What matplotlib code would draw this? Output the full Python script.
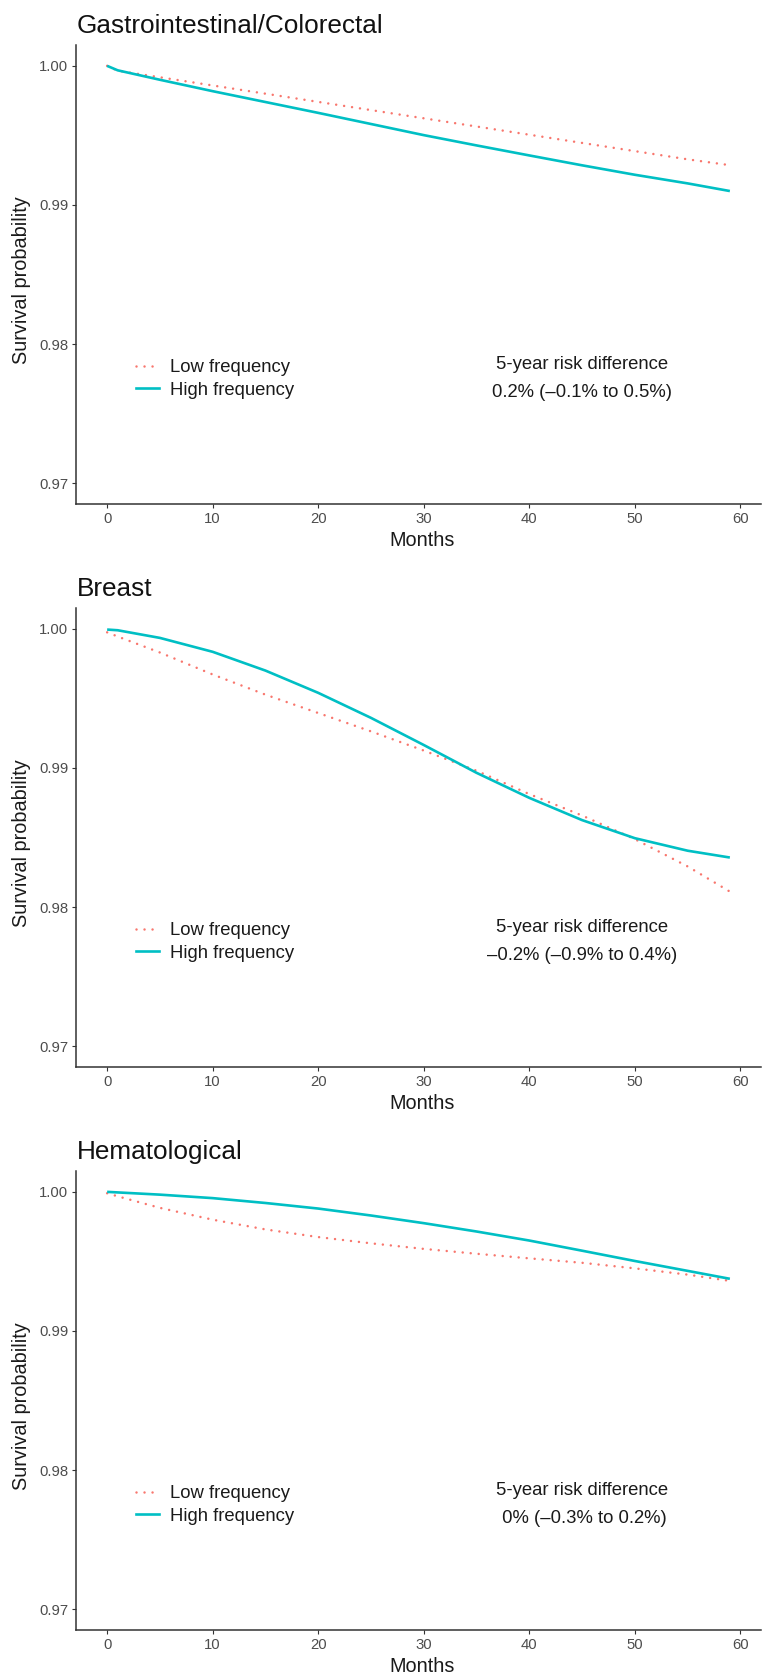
import matplotlib
matplotlib.use("Agg")
import matplotlib.pyplot as plt
from matplotlib.lines import Line2D

plt.rcParams['font.family'] = ['Liberation Sans', 'DejaVu Sans']

# ---- data ----
titles = ["Gastrointestinal/Colorectal", "Breast", "Hematological"]
months = [0, 1, 5, 10, 15, 20, 25, 30, 35, 40, 45, 50, 55, 59]

low_gi = [1.0, 0.99965, 0.99918, 0.99859, 0.99800, 0.99741, 0.99682, 0.99623,
          0.99564, 0.99505, 0.99446, 0.99387, 0.99328, 0.99286]
high_gi = [1.0, 0.99968, 0.99900, 0.99818, 0.99740, 0.99662, 0.99582, 0.99502,
           0.99428, 0.99356, 0.99285, 0.99217, 0.99155, 0.99100]

low_breast = [0.99975, 0.99945, 0.99830, 0.99672, 0.99527, 0.99395, 0.99263, 0.99125,
              0.98980, 0.98812, 0.98658, 0.98488, 0.98292, 0.98111]
high_breast = [0.99995, 0.99990, 0.99935, 0.99835, 0.99700, 0.99540, 0.99360, 0.99165,
               0.98965, 0.98785, 0.98625, 0.98495, 0.98405, 0.98356]

low_hem = [0.99990, 0.99968, 0.99885, 0.99800, 0.99730, 0.99675, 0.99630, 0.99590,
           0.99555, 0.99522, 0.99490, 0.99450, 0.99405, 0.99360]
high_hem = [1.0, 0.99996, 0.99980, 0.99955, 0.99920, 0.99880, 0.99830, 0.99775,
            0.99715, 0.99650, 0.99577, 0.99503, 0.99432, 0.99375]

low_series = [low_gi, low_breast, low_hem]
high_series = [high_gi, high_breast, high_hem]
risk_texts = ["0.2% (–0.1% to 0.5%)", "–0.2% (–0.9% to 0.4%)", " 0% (–0.3% to 0.2%)"]
series_labels = ["Low frequency", "High frequency"]
x_ticks = [0, 10, 20, 30, 40, 50, 60]
y_ticks = [0.97, 0.98, 0.99, 1.00]

# ---- layout ----
W, H = 763, 1676
DPI = 100
fig = plt.figure(figsize=(W / DPI, H / DPI), dpi=DPI)

RED = "#F8766D"
CYAN = "#00BFC4"
AX_COL = "#333333"
TICK_COL = "#4D4D4D"
TXT_COL = "#1A1A1A"
DOTS = (0, (0.01, 3.2))

left_px, right_px = 76, 761
title_centers = [24, 587, 1150]

for i in range(3):
    t = title_centers[i]
    top = t + 21
    bot = t + 480
    ax = fig.add_axes([left_px / W, 1 - bot / H, (right_px - left_px) / W, (bot - top) / H])
    ax.plot(months, low_series[i], color=RED, lw=1.8, linestyle=DOTS,
            dash_capstyle='round', label=series_labels[0])
    ax.plot(months, high_series[i], color=CYAN, lw=1.9, solid_capstyle='butt',
            label=series_labels[1])
    ax.set_xlim(-2.95, 61.95)
    ax.set_ylim(0.9685, 1.0015)
    ax.set_xticks(x_ticks)
    ax.set_yticks(y_ticks)
    ax.set_yticklabels([f"{v:.2f}" for v in y_ticks])
    for s in ["top", "right"]:
        ax.spines[s].set_visible(False)
    for s in ["left", "bottom"]:
        ax.spines[s].set_color(AX_COL)
        ax.spines[s].set_linewidth(1.1)
    ax.tick_params(axis='both', length=3, width=0.8, color=AX_COL,
                   labelcolor=TICK_COL, labelsize=10.7, pad=2.5)

    # title
    fig.text(77 / W, 1 - (t + 9) / H, titles[i], fontsize=18.8, color="#111111",
             ha='left', va='baseline')
    # axis labels
    fig.text(22 / W, 1 - ((top + bot) / 2 + 6) / H, "Survival probability", rotation=90,
             fontsize=14.3, color=TXT_COL, ha='center', va='center')
    fig.text(((left_px + right_px) / 2 + 4) / W, 1 - (t + 516) / H, "Months",
             fontsize=14.3, color=TXT_COL, ha='center', va='center')

    # legend
    handles = [Line2D([], [], color=RED, lw=1.8, linestyle=DOTS, dash_capstyle='round'),
               Line2D([], [], color=CYAN, lw=1.9)]
    ax.legend(handles, series_labels, loc='center left', bbox_to_anchor=(2.75, 0.9775),
              bbox_transform=ax.transData, frameon=False, fontsize=13.3,
              handlelength=1.25, handletextpad=0.6, labelspacing=0.3,
              borderpad=0, borderaxespad=0, labelcolor=TXT_COL)

    # risk difference annotation
    ax.text(45, 0.9785, "5-year risk difference", fontsize=13.3, color=TXT_COL,
            ha='center', va='center')
    ax.text(45, 0.9765, risk_texts[i], fontsize=13.3, color=TXT_COL,
            ha='center', va='center')

fig.savefig("out.png", dpi=DPI)
